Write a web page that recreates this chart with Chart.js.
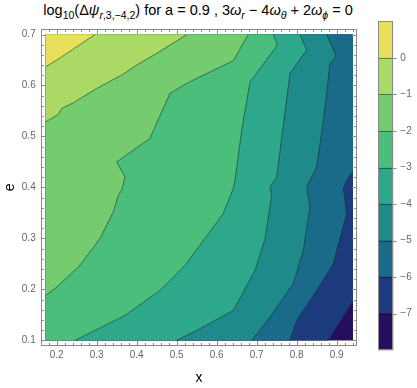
<!doctype html>
<html lang="en">
<head>
<meta charset="utf-8">
<title>log10 contour, a = 0.9</title>
<script src="https://cdn.jsdelivr.net/npm/chart.js"></script>
<style>
  html, body { margin: 0; padding: 0; background: #fff; }
  #wrap { position: relative; width: 417px; height: 388px; font-family: 'Liberation Sans', Arial, sans-serif; }
  #main { position: absolute; left: 0; top: 0; }
  #bar { position: absolute; left: 360px; top: 0; }
  #title { position: absolute; left: 0; top: -1px; width: 396px; text-align: center; font-size: 14.5px; line-height: 22px; color: #000; white-space: nowrap; }
  #title sub { font-size: 10.5px; vertical-align: -4px; line-height: 0; }
  #title i { font-style: italic; }
</style>
</head>
<body>
<div id="wrap">
  <div id="title">log<sub>10</sub>(Δ<i>ψ</i><sub><i>r</i>,3,−4,2</sub>) for a = 0.9 , 3<i>ω</i><sub><i>r</i></sub> − 4<i>ω</i><sub><i>θ</i></sub> + 2<i>ω</i><sub><i>ϕ</i></sub> = 0</div>
  <canvas id="main" width="417" height="388"></canvas>
  <canvas id="bar" width="57" height="388"></canvas>
</div>

<script>
// plot range of the data (x, e)
const xMin = 0.1725, xMax = 0.9407, yMin = 0.1, yMax = 0.7;
const xTicks = [0.2, 0.3, 0.4, 0.5, 0.6, 0.7, 0.8, 0.9];
const yTicks = [0.1, 0.2, 0.3, 0.4, 0.5, 0.6, 0.7];

// contour levels and the lines, [x, e]
const levels = [0, -1, -2, -3, -4, -5, -6, -7];
const c0 = [[0.2958, 0.7], [0.2083, 0.654], [0.1725, 0.6367]];
const c1 = [[0.5258, 0.7], [0.45, 0.663], [0.4, 0.64], [0.3625, 0.6204], [0.3, 0.5943], [0.2415, 0.566],
            [0.2125, 0.555], [0.204, 0.5432], [0.1725, 0.5287]];
const c2 = [[0.679, 0.7], [0.6415, 0.6485], [0.558, 0.617], [0.525, 0.604], [0.483, 0.5845], [0.433, 0.496],
            [0.35, 0.45], [0.3708, 0.4206], [0.3625, 0.3945], [0.354, 0.3847], [0.3415, 0.352], [0.308, 0.2996],
            [0.258, 0.247], [0.2, 0.2045], [0.1725, 0.188]];
const c3 = [[0.7415, 0.7], [0.7515, 0.679], [0.6833, 0.607], [0.6625, 0.5124], [0.6458, 0.414], [0.6415, 0.398],
            [0.6165, 0.349], [0.558, 0.2865], [0.521, 0.2475], [0.458, 0.198], [0.371, 0.149], [0.2458, 0.1]];
const c4 = [[0.8083, 0.7], [0.825, 0.6695], [0.7833, 0.6238], [0.7665, 0.5222], [0.75, 0.4206], [0.7333, 0.401],
            [0.7375, 0.3847], [0.7208, 0.2996], [0.6958, 0.2374], [0.6415, 0.1587], [0.558, 0.1228], [0.5, 0.1]];
const c5 = [[0.875, 0.7], [0.8983, 0.6578], [0.8833, 0.6434], [0.868, 0.5385], [0.85, 0.4403], [0.825, 0.401],
            [0.8333, 0.3617], [0.8165, 0.2766], [0.7915, 0.2112], [0.7333, 0.1456], [0.6875, 0.1]];
const c6 = [[0.9407, 0.4318], [0.925, 0.4141], [0.9165, 0.3978], [0.925, 0.3487], [0.8915, 0.2505],
            [0.85, 0.198], [0.8, 0.1391], [0.7833, 0.1]];
const c7 = [[0.9407, 0.1764], [0.879, 0.1]];
const contours = [c0, c1, c2, c3, c4, c5, c6, c7];

// colour bar: value range and one colour per band, lowest first
const cbMin = -8, cbMax = 1;
const cbTicks = [-7, -6, -5, -4, -3, -2, -1, 0];
const bandColors = ['#24105e', '#1c3b7e', '#1a6a89', '#1f8a8a', '#2ea88a', '#4cbe7c', '#74cc6e', '#aad966', '#e8e05a'];

Chart.defaults.font.family = "'Liberation Sans', Arial, sans-serif";
Chart.defaults.animation = false;

const toPts = arr => arr.map(p => ({x: p[0], y: p[1]}));

// region where the value is above a level: left/top corner side of the contour
function regionAbove(line) {
  const pts = [[xMin, yMax]];
  const end = line[line.length - 1];
  if (end[1] === yMin) pts.push([xMin, yMin]);
  line.slice().reverse().forEach(p => pts.push(p));
  pts.push([xMax, yMax]);
  return pts;
}

const datasets = [];
contours.forEach((line, i) => {
  datasets.push({
    label: 'level ' + levels[i],
    data: toPts(line),
    showLine: true,
    borderColor: 'rgba(20,40,30,0.55)',
    borderWidth: 1,
    pointRadius: 0,
    fill: false
  });
});
contours.forEach((line, i) => {
  datasets.push({
    label: 'above ' + levels[i],
    data: toPts(regionAbove(line)),
    showLine: true,
    borderWidth: 0,
    borderColor: 'transparent',
    backgroundColor: bandColors[bandColors.length - 1 - i],
    pointRadius: 0,
    fill: 'shape'
  });
});
datasets.push({
  label: 'base',
  data: toPts([[xMin, yMin], [xMin, yMax], [xMax, yMax], [xMax, yMin]]),
  showLine: true,
  borderWidth: 0,
  borderColor: 'transparent',
  backgroundColor: bandColors[0],
  pointRadius: 0,
  fill: 'shape'
});

function minorSteps(from, to, step) {
  const out = [];
  for (let v = from; v <= to + 1e-9; v += step) out.push(Math.round(v * 1000) / 1000);
  return out;
}

const frameTicks = {
  id: 'frameTicks',
  afterDatasetsDraw(chart) {
    const {ctx, chartArea: a, scales: {x, y}} = chart;
    const L = Math.round(a.left) + 0.5, R = Math.round(a.right) - 0.5;
    const T = Math.round(a.top) + 0.5, B = Math.round(a.bottom) - 0.5;
    ctx.save();
    ctx.strokeStyle = '#8a8a8a';
    ctx.lineWidth = 1;
    ctx.strokeRect(L, T, R - L, B - T);
    ctx.beginPath();
    minorSteps(0.16, 0.95, 0.02).forEach(v => {
      const major = Math.abs(v * 10 - Math.round(v * 10)) < 1e-6;
      const len = major ? 4.5 : 2.5;
      const px = Math.round(x.getPixelForValue(v)) + 0.5;
      ctx.moveTo(px, B); ctx.lineTo(px, B - len);
      ctx.moveTo(px, T); ctx.lineTo(px, T + len);
    });
    minorSteps(0.1, 0.7, 0.02).forEach(v => {
      const major = Math.abs(v * 10 - Math.round(v * 10)) < 1e-6;
      const len = major ? 4.5 : 2.5;
      const py = Math.round(y.getPixelForValue(v)) + 0.5;
      ctx.moveTo(L, py); ctx.lineTo(L + len, py);
      ctx.moveTo(R, py); ctx.lineTo(R - len, py);
    });
    ctx.stroke();
    ctx.restore();
  }
};

new Chart(document.getElementById('main'), {
  type: 'scatter',
  data: {datasets},
  options: {
    responsive: false,
    layout: {padding: {left: 0, top: 29, right: 59.7, bottom: 0}},
    plugins: {legend: {display: false}, tooltip: {enabled: false}},
    elements: {line: {tension: 0}},
    scales: {
      x: {
        type: 'linear', min: 0.16, max: 0.9515,
        grid: {display: false, drawTicks: false}, border: {display: false},
        afterBuildTicks: s => { s.ticks = xTicks.map(v => ({value: v})); },
        afterFit: s => { s.height = 42.3; },
        ticks: {padding: 4, color: '#666', font: {size: 10}, autoSkip: false, maxRotation: 0, callback: v => v.toFixed(1)},
        title: {display: true, text: 'x', color: '#000', font: {size: 14}, padding: {top: 0, bottom: 1.5}}
      },
      y: {
        type: 'linear', min: 0.0896, max: 0.7108,
        grid: {display: false, drawTicks: false}, border: {display: false},
        afterBuildTicks: s => { s.ticks = yTicks.map(v => ({value: v})); },
        afterFit: s => { s.width = 40.7; },
        ticks: {padding: 5, color: '#666', font: {size: 10}, autoSkip: false, callback: v => v.toFixed(1)},
        title: {display: true, text: 'e', color: '#000', font: {size: 14}, padding: {top: 1.5, bottom: 0}}
      }
    }
  },
  plugins: [frameTicks]
});

// colour bar
const barSets = bandColors.map((c, i) => ({
  label: 'band ' + i,
  data: [[cbMin + i, Math.min(cbMin + i + 1, cbMax)]],
  backgroundColor: c,
  borderWidth: 0,
  grouped: false,
  barPercentage: 1,
  categoryPercentage: 1
}));

const barFrame = {
  id: 'barFrame',
  afterDatasetsDraw(chart) {
    const {ctx, chartArea: a, scales: {y}} = chart;
    const L = Math.round(a.left) + 0.5, R = Math.round(a.right) - 0.5;
    ctx.save();
    ctx.lineWidth = 1;
    ctx.strokeStyle = 'rgba(0,0,0,0.4)';
    ctx.beginPath();
    cbTicks.forEach(v => {
      const py = Math.round(y.getPixelForValue(v)) + 0.5;
      ctx.moveTo(L, py); ctx.lineTo(R, py);
    });
    ctx.stroke();
    ctx.strokeStyle = '#8a8a8a';
    ctx.strokeRect(L, Math.round(a.top) + 0.5, R - L, Math.round(a.bottom) - Math.round(a.top) - 1);
    ctx.beginPath();
    cbTicks.forEach(v => {
      const py = Math.round(y.getPixelForValue(v)) + 0.5;
      ctx.moveTo(R, py); ctx.lineTo(R + 4, py);
    });
    ctx.stroke();
    ctx.restore();
  }
};

new Chart(document.getElementById('bar'), {
  type: 'bar',
  data: {labels: ['value'], datasets: barSets},
  options: {
    responsive: false,
    layout: {padding: {left: 18, top: 21.3, right: 0, bottom: 37.7}},
    plugins: {legend: {display: false}, tooltip: {enabled: false}},
    scales: {
      x: {display: false},
      y: {
        position: 'right', min: cbMin, max: cbMax,
        grid: {display: false, drawTicks: false}, border: {display: false},
        afterBuildTicks: s => { s.ticks = cbTicks.map(v => ({value: v})); },
        afterFit: s => { s.width = 23.7; },
        ticks: {padding: 7, color: '#666', font: {size: 10}, autoSkip: false,
                callback: v => v < 0 ? '\u2212' + Math.abs(v) : String(v)}
      }
    }
  },
  plugins: [barFrame]
});
</script>
</body>
</html>
